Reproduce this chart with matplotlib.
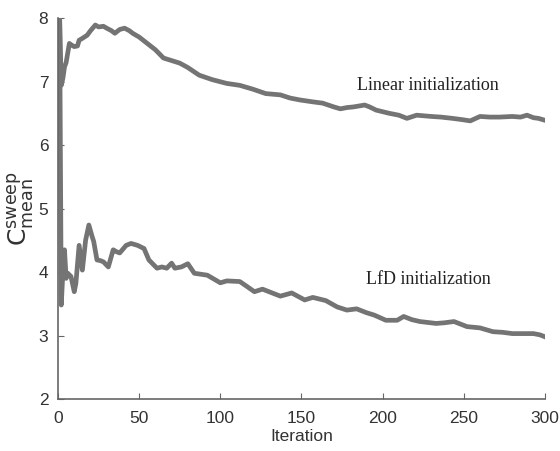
import matplotlib.pyplot as plt

# Linear initialization curve
lin_x = [1, 2, 3, 4, 5, 7, 8, 10, 12, 13, 15, 18, 20, 23, 25, 28, 30, 33, 35, 38, 41, 44, 46,
         50, 55, 60, 65, 70, 75, 80, 87, 95, 104, 112, 120, 128, 137, 143, 149, 157, 163,
         170, 174, 178, 182, 189, 192, 196, 204, 210, 215, 221, 230, 236, 243, 249, 254,
         260, 266, 272, 280, 285, 289, 293, 296, 300]
lin_y = [8.0, 6.94, 7.05, 7.23, 7.3, 7.6, 7.58, 7.55, 7.56, 7.65, 7.68, 7.73, 7.8, 7.89, 7.86, 7.87,
         7.84, 7.8, 7.76, 7.82, 7.84, 7.8, 7.76, 7.7, 7.6, 7.5, 7.37, 7.33, 7.29, 7.22, 7.1,
         7.03, 6.97, 6.94, 6.88, 6.81, 6.79, 6.74, 6.71, 6.68, 6.66, 6.6, 6.57, 6.59, 6.6,
         6.63, 6.6, 6.55, 6.5, 6.47, 6.42, 6.47, 6.45, 6.44, 6.42, 6.4, 6.38, 6.45, 6.44,
         6.44, 6.45, 6.44, 6.47, 6.43, 6.42, 6.39]

# LfD initialization curve
lfd_x = [1, 2, 3, 4, 5, 6, 8, 10, 11, 13, 15, 17, 19, 21, 22, 24, 26, 28, 31, 34, 36, 38, 42,
         45, 49, 53, 56, 61, 64, 67, 70, 72, 76, 80, 84, 92, 100, 104, 112, 116, 121, 126,
         131, 137, 144, 152, 157, 165, 172, 178, 184, 190, 195, 202, 209, 213, 218, 223,
         233, 238, 244, 252, 260, 268, 274, 280, 289, 293, 297, 300]
lfd_y = [8.0, 3.48, 4.0, 4.35, 3.9, 3.98, 3.93, 3.69, 3.82, 4.42, 4.03, 4.5, 4.74, 4.56, 4.48,
         4.19, 4.18, 4.16, 4.08, 4.35, 4.32, 4.3, 4.42, 4.45, 4.42, 4.37, 4.19, 4.06, 4.08,
         4.06, 4.14, 4.06, 4.08, 4.13, 3.98, 3.95, 3.83, 3.86, 3.85, 3.78, 3.69, 3.73, 3.68,
         3.62, 3.67, 3.56, 3.6, 3.55, 3.45, 3.4, 3.42, 3.36, 3.32, 3.24, 3.24, 3.3, 3.25,
         3.22, 3.19, 3.2, 3.22, 3.14, 3.12, 3.06, 3.05, 3.03, 3.03, 3.03, 3.01, 2.98]

fig = plt.figure(figsize=(5.6, 4.51), dpi=100)
ax = fig.add_axes([0.1036, 0.1153, 0.8694, 0.8447])

ax.plot(lin_x, lin_y, color="#747474", linewidth=3.4)
ax.plot(lfd_x, lfd_y, color="#747474", linewidth=3.4)

ax.text(184, 6.94, "Linear initialization", family="Liberation Serif", fontsize=13,
        va="center", ha="left", color="#222222")
ax.text(190, 3.885, "LfD initialization", family="Liberation Serif", fontsize=13,
        va="center", ha="left", color="#222222")

ax.set_xlim(0, 300)
ax.set_ylim(2, 8)
ax.set_xticks([0, 50, 100, 150, 200, 250, 300])
ax.set_yticks([2, 3, 4, 5, 6, 7, 8])

for s in ["top", "right"]:
    ax.spines[s].set_visible(False)
for s in ["left", "bottom"]:
    ax.spines[s].set_color("#666666")
    ax.spines[s].set_linewidth(1.2)

ax.tick_params(direction="in", length=4, color="#666666", labelsize=12.5,
               labelcolor="#333333")
ax.tick_params(axis="x", pad=9)
ax.tick_params(axis="y", pad=7)
for lab in ax.get_xticklabels() + ax.get_yticklabels():
    lab.set_family("Liberation Sans")

ax.set_xlabel("Iteration", family="Liberation Sans", fontsize=12.5, color="#333333", labelpad=2)
ax.set_ylabel(r"$\mathregular{C^{sweep}_{mean}}$", fontsize=18, color="#333333", labelpad=2)

fig.savefig("out.png", dpi=100)
